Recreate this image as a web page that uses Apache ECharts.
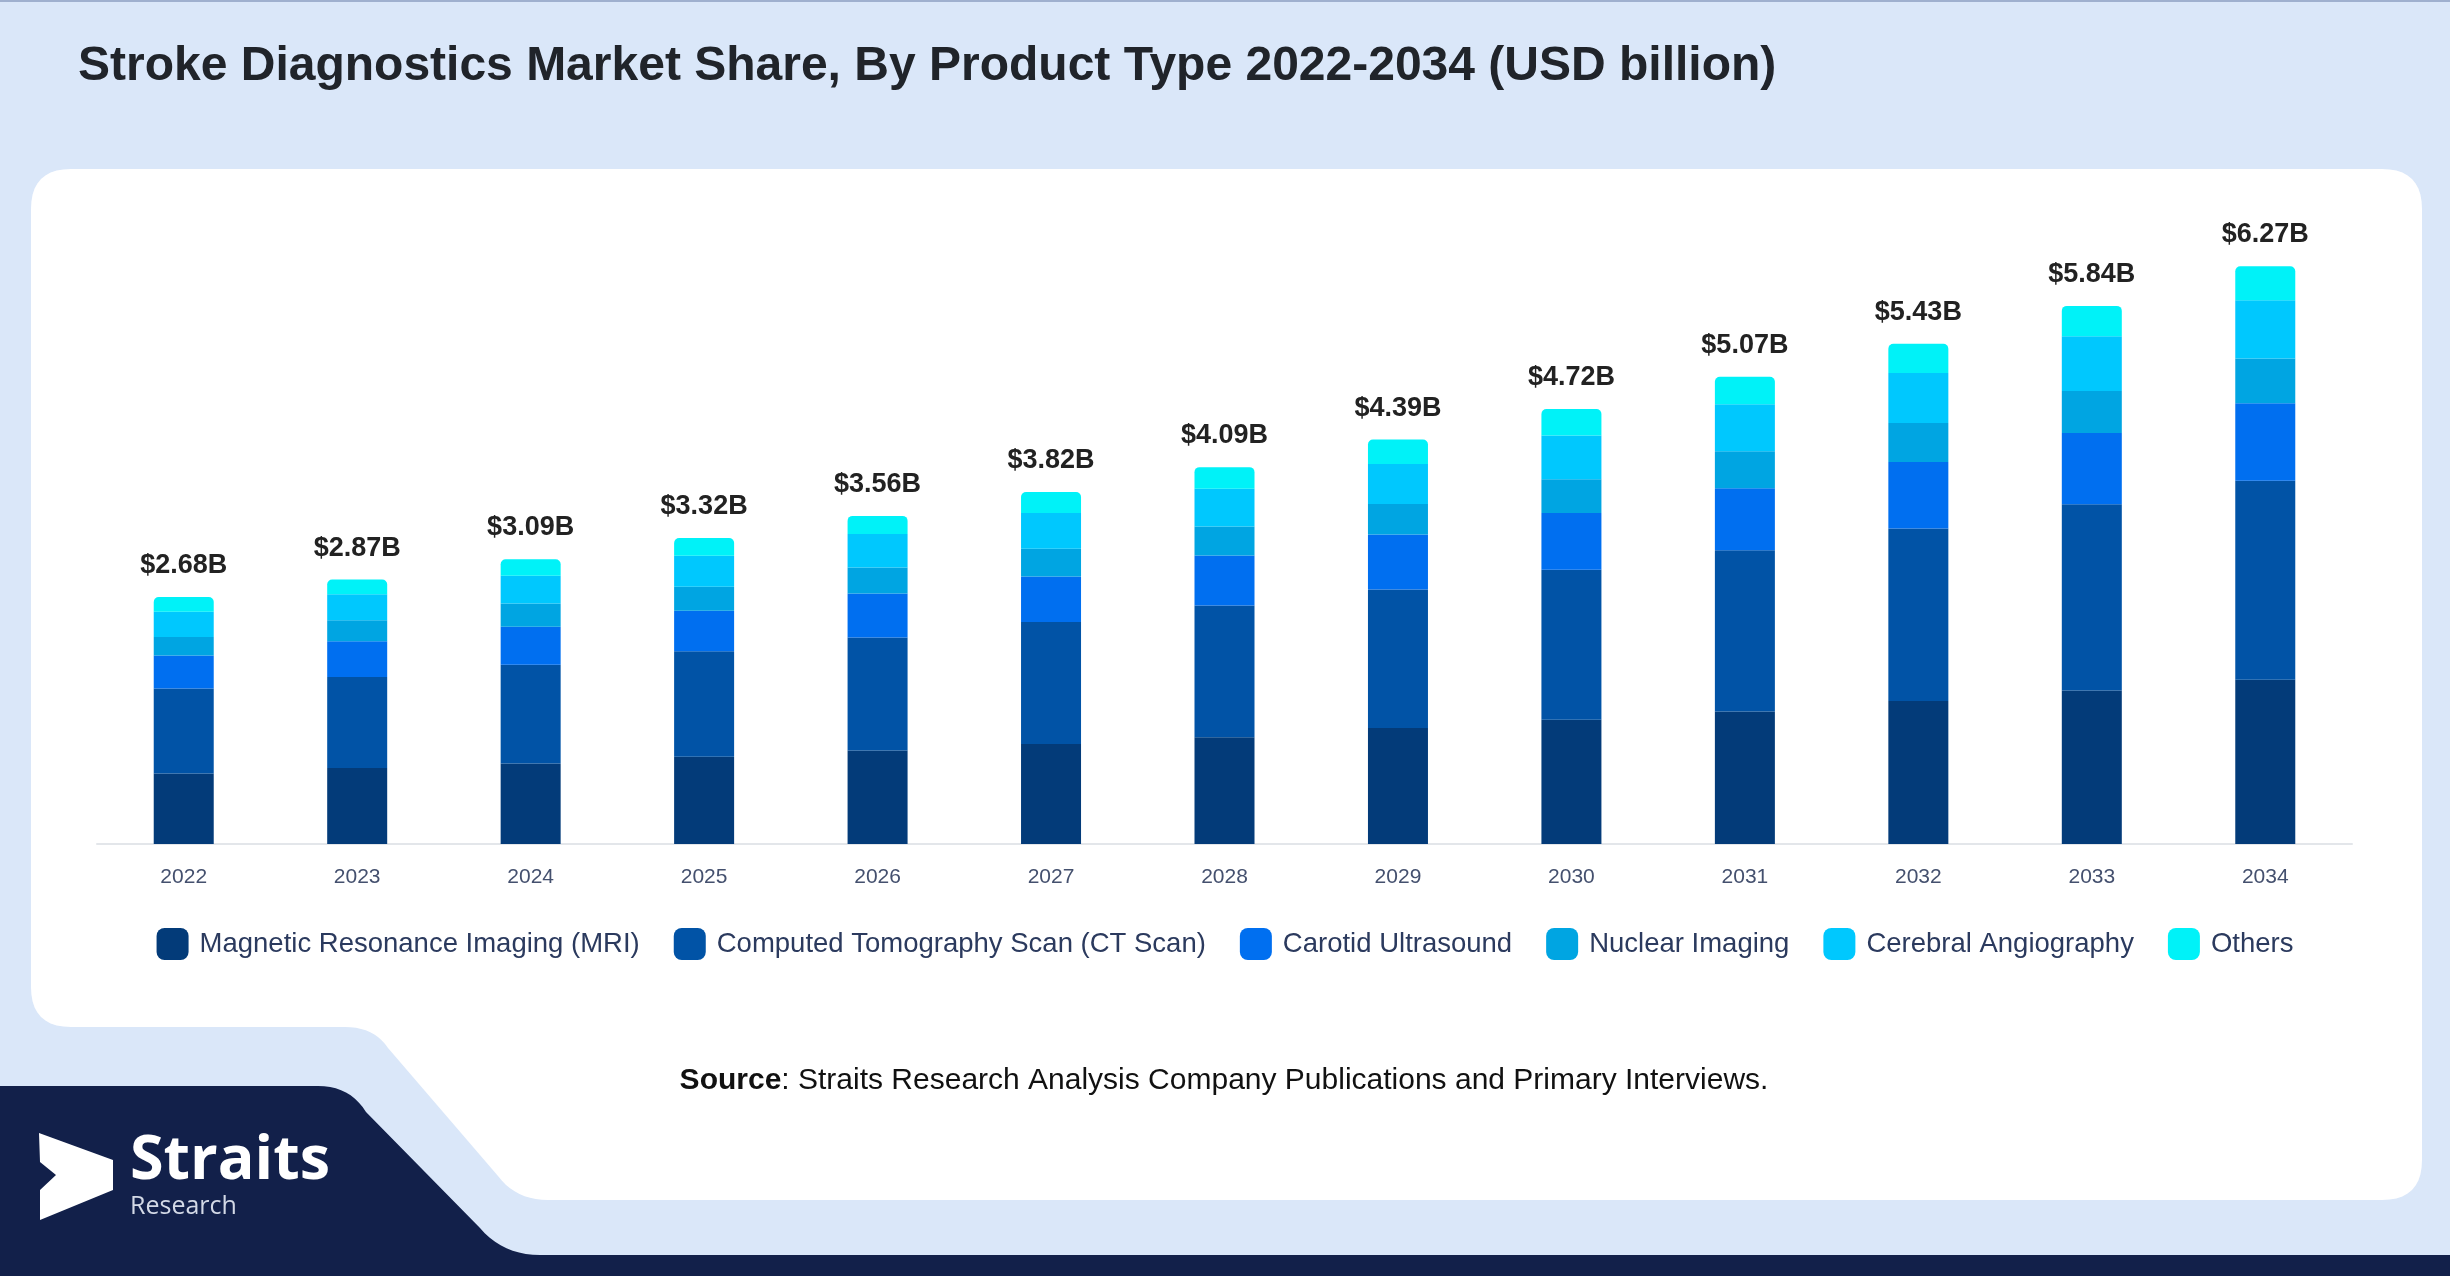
<!DOCTYPE html>
<html>
<head>
<meta charset="utf-8">
<script src="https://cdn.jsdelivr.net/npm/echarts@6/dist/echarts.min.js"></script>
<style>
html,body{margin:0;padding:0;background:#dae7f9;}
#chart{width:2450px;height:1276px;}
</style>
</head>
<body>
<div id="chart"></div>
<script>
const years = ['2022','2023','2024','2025','2026','2027','2028','2029','2030','2031','2032','2033','2034'];
const seriesNames = ['Magnetic Resonance Imaging (MRI)','Computed Tomography Scan (CT Scan)','Carotid Ultrasound','Nuclear Imaging','Cerebral Angiography','Others'];
const mri      = [0.766,0.826,0.875,0.948,1.015,1.086,1.158,1.259,1.349,1.437,1.552,1.667,1.782];
const ct       = [0.921,0.986,1.070,1.143,1.225,1.322,1.430,1.502,1.627,1.752,1.871,2.019,2.160];
const carotid  = [0.358,0.388,0.412,0.441,0.479,0.496,0.543,0.597,0.616,0.671,0.723,0.775,0.842];
const nuclear  = [0.202,0.228,0.253,0.260,0.283,0.301,0.315,0.333,0.366,0.403,0.422,0.455,0.486];
const cerebral = [0.274,0.283,0.300,0.336,0.363,0.387,0.409,0.434,0.476,0.510,0.543,0.595,0.630];
const others   = [0.159,0.159,0.181,0.192,0.196,0.228,0.235,0.264,0.286,0.297,0.319,0.329,0.370];
const totals   = [2.68,2.87,3.09,3.32,3.56,3.82,4.09,4.39,4.72,5.07,5.43,5.84,6.27];
const totalLabels = ['$2.68B','$2.87B','$3.09B','$3.32B','$3.56B','$3.82B','$4.09B','$4.39B','$4.72B','$5.07B','$5.43B','$5.84B','$6.27B'];

const colors = ['#033b79','#0153a6','#006ff0','#00a5e2','#00c8fe','#00f2f8'];
const values = [mri, ct, carotid, nuclear, cerebral, others];

// decorative background outline helper: list of commands -> polygon points
function outline(cmds) {
  const pts = [];
  let cur = null;
  cmds.forEach(c => {
    if (c[0] === 'M' || c[0] === 'L') { cur = [c[1], c[2]]; pts.push(cur); }
    else if (c[0] === 'Q') {
      const [_, cx, cy, x, y] = c;
      for (let k = 1; k <= 10; k++) {
        const t = k / 10, u = 1 - t;
        pts.push([u*u*cur[0] + 2*u*t*cx + t*t*x, u*u*cur[1] + 2*u*t*cy + t*t*y]);
      }
      cur = [x, y];
    }
  });
  return pts;
}

const panelPts = outline([
  ['M',71,169],['L',2382,169],['Q',2422,169,2422,209],['L',2422,1160],['Q',2422,1200,2382,1200],
  ['L',548,1200],['Q',516,1200,498,1176],['L',388,1048],['Q',374,1027,345,1027],['L',71,1027],
  ['Q',31,1027,31,987],['L',31,209],['Q',31,169,71,169]
]);
const navyPts = outline([
  ['M',0,1086],['L',318,1086],['Q',350,1086,366,1112],['L',480,1228],['Q',503,1255,540,1255],
  ['L',2450,1255],['L',2450,1276],['L',0,1276]
]);

const chart = echarts.init(document.getElementById('chart'), null, {renderer:'canvas'});

const series = values.map((v, i) => ({
  name: seriesNames[i],
  type: 'bar',
  stack: 'total',
  barWidth: 60,
  data: v,
  itemStyle: {color: colors[i], borderRadius: i === 5 ? [5,5,0,0] : 0},
  label: i === 5 ? {
    show: true,
    position: 'top',
    distance: 18,
    formatter: p => totalLabels[p.dataIndex],
    fontFamily: 'Liberation Sans, Arial, sans-serif',
    fontWeight: 'bold',
    fontSize: 27,
    color: '#222222'
  } : {show: false},
  emphasis: {disabled: true}
}));

const option = {
  backgroundColor: '#dae7f9',
  animation: false,
  title: {
    text: 'Stroke Diagnostics Market Share, By Product Type 2022-2034 (USD billion)',
    left: 73,
    top: 38,
    textStyle: {fontFamily: 'Liberation Sans, Arial, sans-serif', fontWeight: 'bold', fontSize: 48, color: '#20242a'}
  },
  graphic: [
    {type:'rect', z:-10, shape:{x:0,y:0,width:2450,height:2}, style:{fill:'#9fb0cf'}},
    {type:'polygon', z:-9, shape:{points: panelPts}, style:{fill:'#ffffff'}},
    {type:'polygon', z:-8, shape:{points: navyPts}, style:{fill:'#12204a'}},
    {type:'polygon', z:-7, shape:{points:[[39,1133],[113,1160],[113,1190],[40,1220],[40,1190],[56,1175],[40,1162]]}, style:{fill:'#ffffff'}},
    {type:'text', z:-7, x:130, y:1192, style:{text:'Straits', fontFamily:'Open Sans, Noto Sans, sans-serif', fontWeight:'bold', fontSize:61, fill:'#ffffff', verticalAlign:'bottom'}},
    {type:'text', z:-7, x:130, y:1207, style:{text:'Research', fontFamily:'Open Sans, Noto Sans, sans-serif', fontSize:25, fill:'#d3d9e6', verticalAlign:'middle'}},
    {type:'text', z:-7, x:1224, y:1081, style:{
      text:'{b|Source}: Straits Research Analysis Company Publications and Primary Interviews.',
      rich:{b:{fontWeight:'bold', fontFamily:'Liberation Sans, Arial, sans-serif', fontSize:30, fill:'#111111'}},
      fontFamily:'Liberation Sans, Arial, sans-serif', fontSize:30, fill:'#111111', align:'center', verticalAlign:'middle'}}
  ],
  legend: {
    data: seriesNames,
    left: 'center',
    top: 923,
    icon: 'roundRect',
    itemWidth: 32,
    itemHeight: 32,
    itemGap: 34,
    textStyle: {fontFamily: 'Liberation Sans, Arial, sans-serif', fontSize: 27.5, color: '#2b3a5e', padding:[0,0,0,6]},
    selectedMode: false
  },
  grid: {left: 97, right: 98, top: 199, height: 645, containLabel: false},
  xAxis: {
    type: 'category',
    data: years,
    axisLine: {show: true, lineStyle: {color: '#e3e6ea', width: 2}},
    axisTick: {show: false},
    axisLabel: {fontFamily: 'Liberation Sans, Arial, sans-serif', fontSize: 21, color: '#44506e', margin: 23}
  },
  yAxis: {type: 'value', min: 0, max: 7, show: false, splitLine: {show: false}},
  series: series
};
chart.setOption(option);
</script>
</body>
</html>
